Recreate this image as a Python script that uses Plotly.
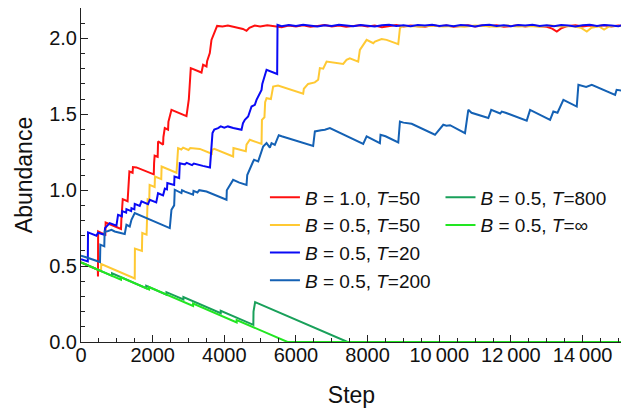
import plotly.graph_objects as go

# ---------------- data ----------------
red_step = [0, 470, 474, 478, 560, 680, 688, 800, 1117, 1125,
            1165, 1300, 1310, 1351, 1440, 1450, 1547, 2031, 2040, 2055,
            2140, 2151, 2291, 2300, 2338, 2430, 2440, 2525, 2944, 2960,
            2989, 3010, 3064, 3363, 3408, 3503, 3520, 3595, 3642, 3700,
            3799,
            3950, 4100, 4250, 4400, 4520, 4620, 4700, 4850, 5000, 5200,
            5400, 5600, 5800, 6000, 6200, 6400, 6600, 6800, 7000, 7200,
            7400, 7600, 7800, 8000, 8200, 8400, 8600, 8800, 9000, 9200,
            9400, 9600, 9800, 10000, 10200, 10400, 10600, 10800, 11000, 11200,
            11400, 11600, 11800, 12000, 12200, 12400, 12600, 12800, 13000, 13150,
            13280, 13400, 13550, 13800, 14000, 14200, 14400, 14600, 14800, 15000,
            15100]
red_val = [0.524, 0.476, 0.432, 0.728, 0.718, 0.708, 0.787, 0.777, 0.745, 0.80,
           0.941, 0.927, 0.99, 1.123, 1.115, 1.152, 1.150, 1.104, 1.178, 1.227,
           1.220, 1.321, 1.300, 1.35, 1.409, 1.398, 1.45, 1.529, 1.488, 1.52,
           1.573, 1.60, 1.804, 1.775, 1.826, 1.815, 1.85, 1.903, 1.99, 2.02,
           2.082,
           2.078, 2.084, 2.076, 2.070, 2.062, 2.050, 2.070, 2.084, 2.078, 2.086,
           2.080, 2.074, 2.084, 2.078, 2.086, 2.076, 2.082, 2.088, 2.078, 2.084,
           2.076, 2.082, 2.086, 2.078, 2.084, 2.074, 2.082, 2.088, 2.078, 2.084,
           2.080, 2.076, 2.086, 2.080, 2.084, 2.076, 2.082, 2.086, 2.078, 2.084,
           2.080, 2.086, 2.076, 2.082, 2.086, 2.078, 2.084, 2.080, 2.076, 2.064,
           2.045, 2.066, 2.080, 2.086, 2.078, 2.084, 2.080, 2.086, 2.078, 2.084,
           2.082]

yellow_step = [0, 555, 560, 565, 1500, 1505, 1700, 1710, 1830, 1840,
               1860, 1905, 1915, 2055, 2065, 2240, 2250, 2665, 2680, 2700,
               2710, 2800, 2850, 3000, 3050, 3316, 3595, 3650, 3660, 3720,
               4246, 4255, 4600, 4620, 4712, 5039, 5050, 5120, 5140, 5179,
               5300, 5363, 5500, 6201, 6220, 6339, 6525, 6620, 6667, 6760,
               6855, 7318, 7411, 7504, 7737, 7784, 7972, 8158, 8204, 8390,
               8530, 8855, 8902,
               8950, 9200, 9500, 9800, 10100, 10400, 10700, 11000, 11300, 11600,
               11900, 12200, 12500, 12800, 13100, 13400, 13700, 13950, 14117, 14250,
               14450, 14600, 14750, 15000, 15100]
yellow_val = [0.524, 0.468, 0.476, 0.514, 0.418, 0.615, 0.600, 0.718, 0.707, 0.84,
              0.94, 0.935, 1.035, 1.021, 1.09, 1.073, 1.156, 1.115, 1.20, 1.21,
              1.277, 1.268, 1.28, 1.265, 1.278, 1.272, 1.244, 1.240, 1.265, 1.272,
              1.222, 1.277, 1.256, 1.30, 1.332, 1.305, 1.463, 1.48, 1.58, 1.606,
              1.60, 1.683, 1.69, 1.635, 1.668, 1.70, 1.71, 1.727, 1.804, 1.80,
              1.847, 1.832, 1.858, 1.869, 1.847, 1.924, 1.99, 1.968, 1.979, 1.995,
              1.99, 1.962, 2.067,
              2.078, 2.082, 2.076, 2.084, 2.078, 2.082, 2.076, 2.084, 2.080, 2.076,
              2.084, 2.078, 2.082, 2.076, 2.084, 2.078, 2.082, 2.070, 2.045, 2.070,
              2.080, 2.058, 2.080, 2.078, 2.082]

blue_step = [0, 150, 190, 196, 430, 475, 662, 670, 802, 989,
             1034, 1140, 1150, 1260, 1268, 1400, 1408, 1490, 1500, 1640,
             1687, 1872, 1920, 2100, 2150, 2291, 2340, 2400, 2410, 2600,
             2610, 2740, 2757, 2900, 2950, 3100, 3150, 3400, 3600, 3670,
             3720, 3827, 3900, 4000, 4100, 4250, 4480, 4520, 4573, 4665,
             4700, 4760, 4852, 4899, 5039, 5060, 5179, 5475, 5485,
             5600, 5800, 6000, 6200, 6400, 6600, 6800, 7000, 7200, 7400,
             7600, 7800, 8000, 8200, 8400, 8600, 8800, 9000, 9200, 9400,
             9600, 9800, 10000, 10200, 10400, 10600, 10800, 11000, 11200, 11400,
             11600, 11800, 12000, 12200, 12400, 12600, 12800, 13000, 13200, 13400,
             13600, 13800, 14000, 14200, 14400, 14600, 14800, 15000, 15100]
blue_val = [0.545, 0.531, 0.531, 0.722, 0.700, 0.72, 0.706, 0.75, 0.783, 0.766,
            0.838, 0.828, 0.862, 0.852, 0.875, 0.862, 0.882, 0.874, 0.910, 0.896,
            0.926, 0.908, 0.937, 0.920, 0.98, 0.966, 1.01, 1.005, 1.047, 1.035,
            1.09, 1.08, 1.178, 1.17, 1.18, 1.165, 1.175, 1.16, 1.150, 1.376,
            1.40, 1.409, 1.42, 1.412, 1.42, 1.41, 1.398, 1.44, 1.464, 1.485,
            1.508, 1.551, 1.562, 1.595, 1.661, 1.70, 1.793, 1.765, 2.089,
            2.080, 2.088, 2.082, 2.090, 2.084, 2.078, 2.086, 2.082, 2.090, 2.084,
            2.080, 2.088, 2.084, 2.078, 2.086, 2.090, 2.082, 2.086, 2.080, 2.088,
            2.084, 2.090, 2.082, 2.086, 2.080, 2.088, 2.084, 2.078, 2.086, 2.090,
            2.082, 2.086, 2.080, 2.088, 2.084, 2.090, 2.082, 2.086, 2.080, 2.088,
            2.084, 2.078, 2.086, 2.090, 2.082, 2.088, 2.084, 2.080, 2.086]

dblue_step = [0, 120, 530, 540, 650, 660, 740, 849, 940, 1221,
              1268, 1361, 1408, 1450, 1500, 2478, 2500, 2525, 2600, 2617,
              2804, 2820, 2900, 3128, 3140, 3250, 3300, 3503, 4061, 4070,
              4246, 4420, 4620, 4640, 4804, 4830, 4945, 5084, 5179, 5272,
              5318, 5410, 5520, 5600, 6480, 6528, 6700, 6807, 6947, 7877,
              7972, 8100, 8343, 8360, 8500, 8855, 8902, 9000, 9229, 9880,
              10112, 10200, 10300, 10718, 10810, 10900, 11369, 11450, 11550, 11700,
              11743, 11850, 12441, 12534, 13093, 13184, 13300, 13464, 13837, 13883,
              14100, 14257, 14908, 14950, 15100]
dblue_val = [0.568, 0.560, 0.527, 0.641, 0.630, 0.728, 0.73, 0.739, 0.728, 0.712,
             0.772, 0.761, 0.805, 0.83, 0.849, 0.750, 0.80, 0.871, 0.90, 1.003,
             0.981, 1.0, 0.99, 0.97, 0.995, 0.985, 1.00, 0.991, 0.937, 1.0,
             1.068, 1.05, 1.035, 1.10, 1.189, 1.20, 1.19, 1.288, 1.31, 1.28,
             1.31, 1.298, 1.362, 1.355, 1.292, 1.387, 1.395, 1.398, 1.409, 1.305,
             1.354, 1.34, 1.31, 1.365, 1.355, 1.314, 1.452, 1.445, 1.437, 1.365,
             1.431, 1.425, 1.428, 1.376, 1.529, 1.51, 1.475, 1.529, 1.52, 1.505,
             1.518, 1.51, 1.458, 1.529, 1.463, 1.518, 1.51, 1.595, 1.551, 1.694,
             1.68, 1.694, 1.628, 1.661, 1.656]

dgreen_step = [0, 866, 866, 1117, 1820, 1820, 1900, 2385, 2385, 2858,
               2858, 3900, 3900, 4810, 4815, 4860, 7440, 15100]
dgreen_val = [0.524, 0.436, 0.452, 0.426, 0.354, 0.370, 0.362, 0.312, 0.328, 0.280,
              0.296, 0.190, 0.206, 0.113, 0.20, 0.263, 0.0, 0.0]

green_step = [0, 1117, 1117, 1900, 1900, 3128, 3128, 4345, 4345, 5765, 15100]
green_val = [0.524, 0.410, 0.426, 0.346, 0.362, 0.237, 0.253, 0.129, 0.145, 0.0, 0.0]

series_names = ["<i>B</i> = 1.0, <i>T</i>=50", "<i>B</i> = 0.5, <i>T</i>=50",
                "<i>B</i> = 0.5, <i>T</i>=20", "<i>B</i> = 0.5, <i>T</i>=200",
                "<i>B</i> = 0.5, <i>T</i>=800", "<i>B</i> = 0.5, <i>T</i>=∞"]

x_tickvals = [0, 2000, 4000, 6000, 8000, 10000, 12000, 14000]
x_ticktext = ["0", "2000", "4000", "6000", "8000", "10\u2009000", "12\u2009000", "14\u2009000"]
y_tickvals = [0.0, 0.5, 1.0, 1.5, 2.0]
y_ticktext = ["0.0", "0.5", "1.0", "1.5", "2.0"]

# ---------------- figure ----------------
colors = ["#FF1010", "#FFC933", "#0A0AF5", "#1461B4", "#19A05A", "#22E622"]
data = [(red_step, red_val), (yellow_step, yellow_val), (blue_step, blue_val),
        (dblue_step, dblue_val), (dgreen_step, dgreen_val), (green_step, green_val)]
legend_ids = ["legend", "legend", "legend", "legend", "legend2", "legend2"]

FONT = "Liberation Sans, Arial, sans-serif"
fig = go.Figure()
for (xs, ys), name, col, lg in zip(data, series_names, colors, legend_ids):
    fig.add_trace(go.Scatter(x=xs, y=ys, mode="lines", name=name,
                             line=dict(color=col, width=2), legend=lg))

axis_common = dict(showline=True, linecolor="#222", linewidth=1, ticks="inside",
                   tickcolor="#222", ticklen=7, tickwidth=1, showgrid=False,
                   zeroline=False, mirror=False, automargin=False,
                   tickfont=dict(family=FONT, size=20, color="#111"))

# page body has an 8px default margin, so the figure is sized to fit the window
fig.update_layout(
    width=621, height=401,
    margin=dict(l=73, r=7, t=0, b=67, autoexpand=False),
    paper_bgcolor="white", plot_bgcolor="white",
    font=dict(family=FONT, color="#111"),
    xaxis=dict(range=[0, 15100], tickvals=x_tickvals, ticktext=x_ticktext,
               ticklabelstandoff=-5,
               minor=dict(ticks="inside", ticklen=4, dtick=500, tick0=0, tickcolor="#222", showgrid=False),
               title=dict(text="Step", font=dict(family=FONT, size=23, color="#111"), standoff=21),
               **axis_common),
    yaxis=dict(range=[0, 2.2], tickvals=y_tickvals, ticktext=y_ticktext,
               ticklabelstandoff=-1,
               minor=dict(ticks="inside", ticklen=4, dtick=0.1, tick0=0, tickcolor="#222", showgrid=False),
               title=dict(text="Abundance", font=dict(family=FONT, size=23, color="#111"), standoff=10),
               **axis_common),
    legend=dict(x=0.34, y=0.49, xanchor="left", yanchor="top", bgcolor="rgba(0,0,0,0)",
                font=dict(family=FONT, size=19, color="#111"), itemwidth=30,
                tracegroupgap=0),
    legend2=dict(x=0.6645, y=0.49, xanchor="left", yanchor="top", bgcolor="rgba(0,0,0,0)",
                 font=dict(family=FONT, size=19, color="#111"), itemwidth=30,
                 tracegroupgap=0),
    showlegend=True,
)

fig.write_html("out.html")
